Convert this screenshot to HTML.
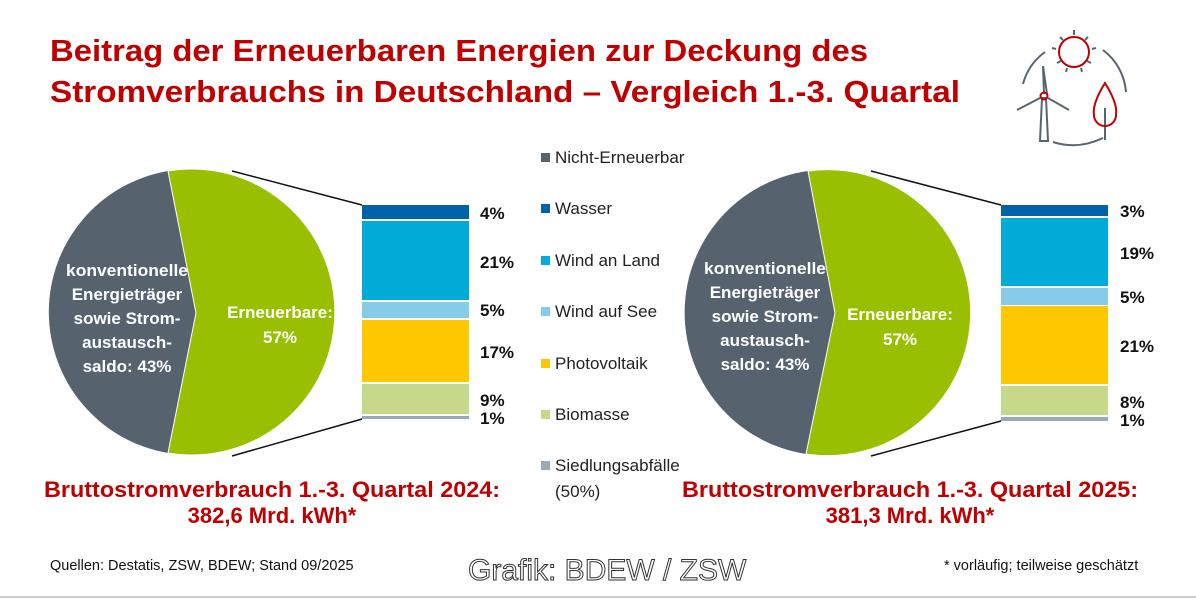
<!DOCTYPE html>
<html><head><meta charset="utf-8"><style>
body{margin:0;width:1196px;height:599px;background:#fff;overflow:hidden;font-family:"Liberation Sans",sans-serif}
svg{display:block}
.t{font-family:"Liberation Sans",sans-serif}
</style></head><body>
<svg width="1196" height="599" viewBox="0 0 1196 599" xmlns="http://www.w3.org/2000/svg">
<g class="t" font-weight="bold" fill="#c00000" font-size="31">
<text x="50" y="61" textLength="818" lengthAdjust="spacingAndGlyphs">Beitrag der Erneuerbaren Energien zur Deckung des</text>
<text x="50" y="102" textLength="910" lengthAdjust="spacingAndGlyphs">Stromverbrauchs in Deutschland – Vergleich 1.-3. Quartal</text>
</g>
<!-- icon -->
<g fill="none" stroke-width="2">
<circle cx="1074" cy="52" r="15" stroke="#c00000"/>
<g stroke="#5a6470">
<line x1="1074" y1="30" x2="1074" y2="35"/><line x1="1060" y1="37" x2="1063" y2="40"/><line x1="1088" y1="37" x2="1085" y2="40"/>
<line x1="1052" y1="48" x2="1056" y2="49"/><line x1="1096" y1="48" x2="1092" y2="49"/>
<line x1="1057" y1="63" x2="1061" y2="61"/><line x1="1091" y1="63" x2="1087" y2="61"/>
<line x1="1066" y1="72" x2="1067" y2="68"/><line x1="1082" y1="72" x2="1081" y2="68"/>
<path d="M1023 84 A58 58 0 0 1 1045 52"/><path d="M1103 50 A58 58 0 0 1 1126 92"/>
<path d="M1053 142 Q1078 150 1103 138"/>
<line x1="1105" y1="108" x2="1105" y2="140"/>
<path d="M1042 98 L1040 141 L1048 141 L1046 98 Z"/>
<path d="M1044 94 L1043 66 L1047 94"/><path d="M1040 98 L1017 110 M1048 98 L1069 110"/>
</g>
<circle cx="1044" cy="96" r="3.5" stroke="#c00000"/>
<path d="M1105 83 Q1092 104 1094 115 A11 11 0 0 0 1116 115 Q1118 104 1105 83 Z" stroke="#c00000"/>
</g>
<!-- left pie -->
<path d="M196 313 L168 171 A143 143 0 0 0 168 453 Z" fill="#56636f"/>
<path d="M196 313 L168 171 A143 143 0 1 1 168 453 Z" fill="#99c000" stroke="#fff" stroke-width="1"/>
<line x1="232" y1="171" x2="362" y2="205" stroke="#111" stroke-width="1.5"/>
<line x1="232" y1="456" x2="362" y2="419" stroke="#111" stroke-width="1.5"/>
<g>
<rect x="362" y="205" width="107" height="14" fill="#0063a8"/>
<rect x="362" y="221" width="107" height="79" fill="#00acd7"/>
<rect x="362" y="302" width="107" height="16" fill="#86cce8"/>
<rect x="362" y="320" width="107" height="62" fill="#fdc800"/>
<rect x="362" y="384" width="107" height="30" fill="#c6d98a"/>
<rect x="362" y="416" width="107" height="3" fill="#9aa8b8"/>
</g>
<g class="t" font-weight="bold" font-size="17" fill="#111">
<text x="480" y="219">4%</text><text x="480" y="268">21%</text><text x="480" y="316">5%</text>
<text x="480" y="358">17%</text><text x="480" y="406">9%</text><text x="480" y="424">1%</text>
</g>
<g class="t" font-weight="bold" font-size="17" fill="#fff" text-anchor="middle">
<text x="127" y="276" textLength="122" lengthAdjust="spacingAndGlyphs">konventionelle</text><text x="127" y="300">Energieträger</text><text x="127" y="324">sowie Strom-</text>
<text x="127" y="348">austausch-</text><text x="127" y="372">saldo: 43%</text>
<text x="280" y="318">Erneuerbare:</text><text x="280" y="343">57%</text>
</g>
<!-- right pie -->
<path d="M835 313 L808 171 A143 143 0 0 0 806 454 Z" fill="#56636f"/>
<path d="M835 313 L808 171 A143 143 0 1 1 806 454 Z" fill="#99c000" stroke="#fff" stroke-width="1"/>
<line x1="871" y1="171" x2="1001" y2="205" stroke="#111" stroke-width="1.5"/>
<line x1="871" y1="456" x2="1001" y2="421" stroke="#111" stroke-width="1.5"/>
<g>
<rect x="1001" y="205" width="107" height="11" fill="#0063a8"/>
<rect x="1001" y="218" width="107" height="68" fill="#00acd7"/>
<rect x="1001" y="288" width="107" height="17" fill="#86cce8"/>
<rect x="1001" y="306" width="107" height="78" fill="#fdc800"/>
<rect x="1001" y="386" width="107" height="29" fill="#c6d98a"/>
<rect x="1001" y="417" width="107" height="4" fill="#9aa8b8"/>
</g>
<g class="t" font-weight="bold" font-size="17" fill="#111">
<text x="1120" y="217">3%</text><text x="1120" y="259">19%</text><text x="1120" y="303">5%</text>
<text x="1120" y="352">21%</text><text x="1120" y="408">8%</text><text x="1120" y="426">1%</text>
</g>
<g class="t" font-weight="bold" font-size="17" fill="#fff" text-anchor="middle">
<text x="765" y="274" textLength="122" lengthAdjust="spacingAndGlyphs">konventionelle</text><text x="765" y="298">Energieträger</text><text x="765" y="322">sowie Strom-</text>
<text x="765" y="346">austausch-</text><text x="765" y="370">saldo: 43%</text>
<text x="900" y="320">Erneuerbare:</text><text x="900" y="345">57%</text>
</g>
<!-- legend -->
<g>
<rect x="541" y="153" width="9" height="9" fill="#56636f"/>
<rect x="541" y="204" width="9" height="9" fill="#0063a8"/>
<rect x="541" y="256" width="9" height="9" fill="#00acd7"/>
<rect x="541" y="307" width="9" height="9" fill="#86cce8"/>
<rect x="541" y="359" width="9" height="9" fill="#fdc800"/>
<rect x="541" y="410" width="9" height="9" fill="#c6d98a"/>
<rect x="541" y="461" width="9" height="9" fill="#9aa8b8"/>
</g>
<g class="t" font-size="17" fill="#222">
<text x="555" y="163">Nicht-Erneuerbar</text><text x="555" y="214">Wasser</text><text x="555" y="266">Wind an Land</text>
<text x="555" y="317">Wind auf See</text><text x="555" y="369">Photovoltaik</text><text x="555" y="420">Biomasse</text>
<text x="555" y="471">Siedlungsabfälle</text><text x="555" y="497">(50%)</text>
</g>
<g class="t" font-weight="bold" font-size="22" fill="#c00000" text-anchor="middle">
<text x="272" y="497" textLength="456" lengthAdjust="spacingAndGlyphs">Bruttostromverbrauch 1.-3. Quartal 2024:</text>
<text x="272" y="523">382,6 Mrd. kWh*</text>
<text x="910" y="497" textLength="456" lengthAdjust="spacingAndGlyphs">Bruttostromverbrauch 1.-3. Quartal 2025:</text>
<text x="910" y="523">381,3 Mrd. kWh*</text>
</g>
<text class="t" x="50" y="570" font-size="14.5" fill="#111">Quellen: Destatis, ZSW, BDEW; Stand 09/2025</text>
<text class="t" x="944" y="570" font-size="14.5" fill="#111">* vorläufig; teilweise geschätzt</text>
<text class="t" x="468" y="580" font-size="30" fill="#fff" stroke="#333" stroke-width="1">Grafik: BDEW / ZSW</text>
<line x1="0" y1="597" x2="1196" y2="597" stroke="#ccc" stroke-width="2"/>
</svg>
</body></html>
